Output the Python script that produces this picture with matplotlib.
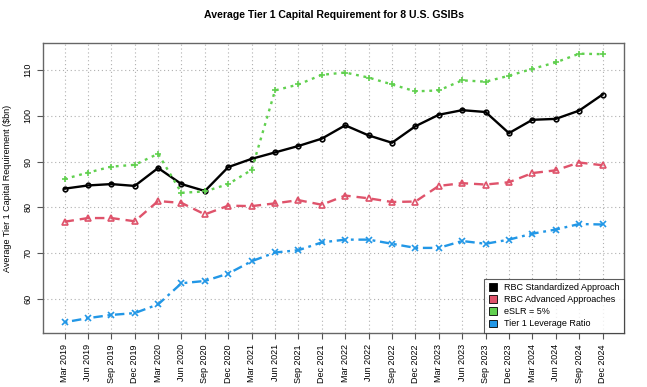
import matplotlib
matplotlib.use("Agg")
import matplotlib.pyplot as plt
from matplotlib.patches import Patch

plt.rcParams['font.family'] = ['Liberation Sans', 'DejaVu Sans']

quarters = ["Mar 2019", "Jun 2019", "Sep 2019", "Dec 2019", "Mar 2020", "Jun 2020",
            "Sep 2020", "Dec 2020", "Mar 2021", "Jun 2021", "Sep 2021", "Dec 2021",
            "Mar 2022", "Jun 2022", "Sep 2022", "Dec 2022", "Mar 2023", "Jun 2023",
            "Sep 2023", "Dec 2023", "Mar 2024", "Jun 2024", "Sep 2024", "Dec 2024"]

rbc_standardized = [84.1, 84.8, 85.1, 84.7, 88.6, 85.1, 83.6, 88.8, 90.6, 92.0, 93.4, 95.0,
                    97.9, 95.7, 94.1, 97.7, 100.2, 101.2, 100.8, 96.2, 99.1, 99.3, 101.1, 104.6]
rbc_advanced = [76.9, 77.7, 77.7, 77.0, 81.4, 81.0, 78.5, 80.4, 80.3, 80.9, 81.6, 80.6,
                82.6, 82.0, 81.2, 81.3, 84.7, 85.3, 85.0, 85.5, 87.5, 88.1, 89.8, 89.2]
eslr = [86.2, 87.6, 88.9, 89.3, 91.7, 83.2, 83.5, 85.1, 88.2, 105.5, 106.8, 108.9,
        109.4, 108.3, 106.8, 105.3, 105.5, 107.7, 107.4, 108.7, 110.2, 111.6, 113.5, 113.4]
leverage = [55.0, 55.9, 56.6, 57.0, 58.9, 63.5, 64.0, 65.6, 68.3, 70.2, 70.7, 72.4,
            73.0, 73.0, 72.1, 71.2, 71.2, 72.7, 72.1, 73.0, 74.3, 75.2, 76.4, 76.3]

series = [
    ("RBC Standardized Approach", rbc_standardized, "black", "-", "o", 3.3),
    ("RBC Advanced Approaches", rbc_advanced, "#DF536B", (0, (4, 2.5)), "^", 4.0),
    ("eSLR = 5%", eslr, "#61D04F", (0, (1.2, 2)), "+", 5.0),
    ("Tier 1 Leverage Ratio", leverage, "#2297E6", (0, (1.2, 2, 4, 2)), "x", 4.0),
]

fig = plt.figure(figsize=(6.47, 3.87), dpi=100)
ax = fig.add_axes([0.0665, 0.1395, 0.898, 0.7495])

x = list(range(len(quarters)))
for label, vals, color, ls, mk, ms in series:
    ax.plot(x, vals, color=color, linestyle=ls, linewidth=1.7, marker=mk,
            markersize=ms, markerfacecolor='none', markeredgecolor=color,
            markeredgewidth=1.2)

allv = rbc_standardized + rbc_advanced + eslr + leverage
lo, hi = min(allv), max(allv)
pad = (hi - lo) * 0.04
ax.set_ylim(lo - pad, hi + pad)
ax.set_xlim(-0.92, len(quarters) - 1 + 0.92)

ax.set_xticks(x)
ax.set_xticklabels(quarters, rotation=90, fontsize=6.5)
ax.set_yticks([60, 70, 80, 90, 100, 110])
ax.set_yticklabels(["60", "70", "80", "90", "100", "110"], rotation=90, va='center', fontsize=6.5)
ax.tick_params(axis='both', length=4, color='#555555', width=0.8)
ax.tick_params(axis='x', pad=4)

ax.grid(True, color='#B0B0B0', linestyle=(0, (1, 2.5)), linewidth=0.8)
ax.set_axisbelow(True)
for s in ax.spines.values():
    s.set_color('#666666')
    s.set_linewidth(1.0)

ax.set_ylabel("Average Tier 1 Capital Requirement ($bn)", fontsize=6.5, labelpad=8)
ax.set_title("Average Tier 1 Capital Requirement for 8 U.S. GSIBs",
             fontsize=7.6, fontweight='bold', pad=18)

handles = [Patch(facecolor=c, edgecolor='black', linewidth=0.6, label=l)
           for l, _, c, _, _, _ in series]
leg = ax.legend(handles=handles, loc='lower right', fontsize=6.5, frameon=True,
                fancybox=False, borderaxespad=0, handlelength=0.9, handleheight=0.9,
                handletextpad=0.8, labelspacing=0.35, borderpad=0.5)
leg.get_frame().set_edgecolor('#333333')
leg.get_frame().set_linewidth(0.8)

fig.savefig("out.png", dpi=100)
